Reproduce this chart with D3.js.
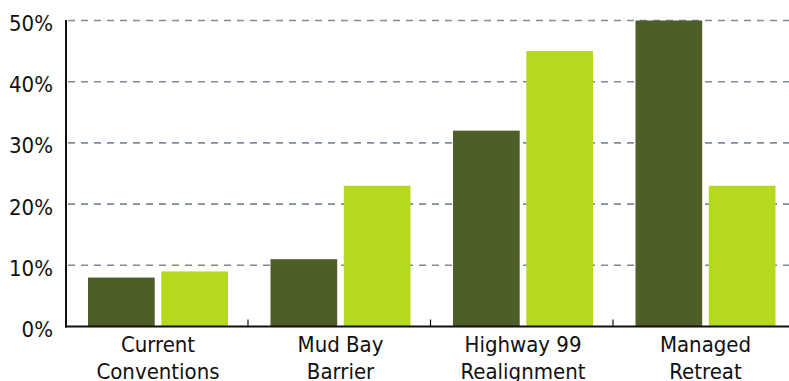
<!DOCTYPE html>
<html>
<head>
<meta charset="utf-8">
<script src="https://cdn.jsdelivr.net/npm/d3@7"></script>
<style>
  html, body { margin: 0; padding: 0; background: #fff; }
  svg { display: block; }
  text { font-family: "DejaVu Sans Condensed", "DejaVu Sans", "Liberation Sans", Arial, sans-serif; font-stretch: condensed; font-size: 22px; fill: #111; }
</style>
</head>
<body>
<svg id="chart" width="789" height="381"></svg>
<script>
// Share of support by scenario, two groups per scenario
const categories = [["Current", "Conventions"], ["Mud Bay", "Barrier"], ["Highway 99", "Realignment"], ["Managed", "Retreat"]];
const seriesNames = ["groupA", "groupB"];
const groupA = [8, 11, 32, 50];
const groupB = [9, 23, 45, 23];
const yTicks = [0, 10, 20, 30, 40, 50];
const colors = ["#4d5e27", "#b5d91c"];

const svg = d3.select("#chart");
const plotLeft = 66, plotRight = 796, plotTop = 20.5, plotBottom = 326.5;

const keys = categories.map(c => c.join(" "));
const x0 = d3.scaleBand().domain(keys).range([plotLeft, plotRight]).padding(0);
const x1 = d3.scaleBand().domain(seriesNames).range([22, 162]).paddingInner(0.09);
const y = d3.scaleLinear().domain([0, 50]).range([plotBottom, plotTop]);

// dashed gridlines
svg.append("g").selectAll("line").data(yTicks.filter(t => t > 0)).join("line")
  .attr("x1", plotLeft + 2).attr("x2", 789)
  .attr("y1", d => y(d)).attr("y2", d => y(d))
  .attr("stroke", "#808a98").attr("stroke-width", 1.6)
  .attr("stroke-dasharray", "7,6");

// bars
const rows = keys.map((k, i) => ({ key: k, values: [groupA[i], groupB[i]] }));
const groups = svg.append("g").selectAll("g").data(rows).join("g")
  .attr("transform", d => `translate(${x0(d.key)},0)`);
groups.selectAll("rect").data(d => d.values.map((v, j) => ({ s: seriesNames[j], v, j }))).join("rect")
  .attr("x", d => x1(d.s))
  .attr("width", x1.bandwidth())
  .attr("y", d => y(d.v))
  .attr("height", d => y(0) - y(d.v))
  .attr("fill", d => colors[d.j]);

// y axis with labels
const yAxis = d3.axisLeft(y).tickValues(yTicks).tickSize(0).tickPadding(13).tickFormat(d => d + "%");
const gy = svg.append("g").attr("transform", `translate(${plotLeft},0)`).call(yAxis);
gy.select(".domain").remove();
gy.selectAll("text").attr("font-size", null).attr("font-family", null).attr("dy", "10").attr("x", -13);
svg.append("line").attr("x1", plotLeft).attr("x2", plotLeft).attr("y1", plotTop - 0.5).attr("y2", plotBottom + 1)
  .attr("stroke", "#111").attr("stroke-width", 2);

// x axis baseline and boundary ticks
svg.append("line").attr("x1", plotLeft - 1).attr("x2", 789).attr("y1", plotBottom).attr("y2", plotBottom)
  .attr("stroke", "#111").attr("stroke-width", 2);
svg.append("g").selectAll("line").data(keys.slice(1)).join("line")
  .attr("x1", d => x0(d) - 0.5).attr("x2", d => x0(d) - 0.5)
  .attr("y1", plotBottom).attr("y2", plotBottom - 7)
  .attr("stroke", "#111").attr("stroke-width", 1.2);

// category labels
const lab = svg.append("g").selectAll("text").data(categories).join("text")
  .attr("text-anchor", "middle")
  .attr("transform", (d, i) => `translate(${x0(keys[i]) + 92},0)`);
lab.selectAll("tspan").data(d => d).join("tspan")
  .attr("x", 0)
  .attr("y", (d, i) => 352 + i * 26.5)
  .text(d => d);
</script>
</body>
</html>
